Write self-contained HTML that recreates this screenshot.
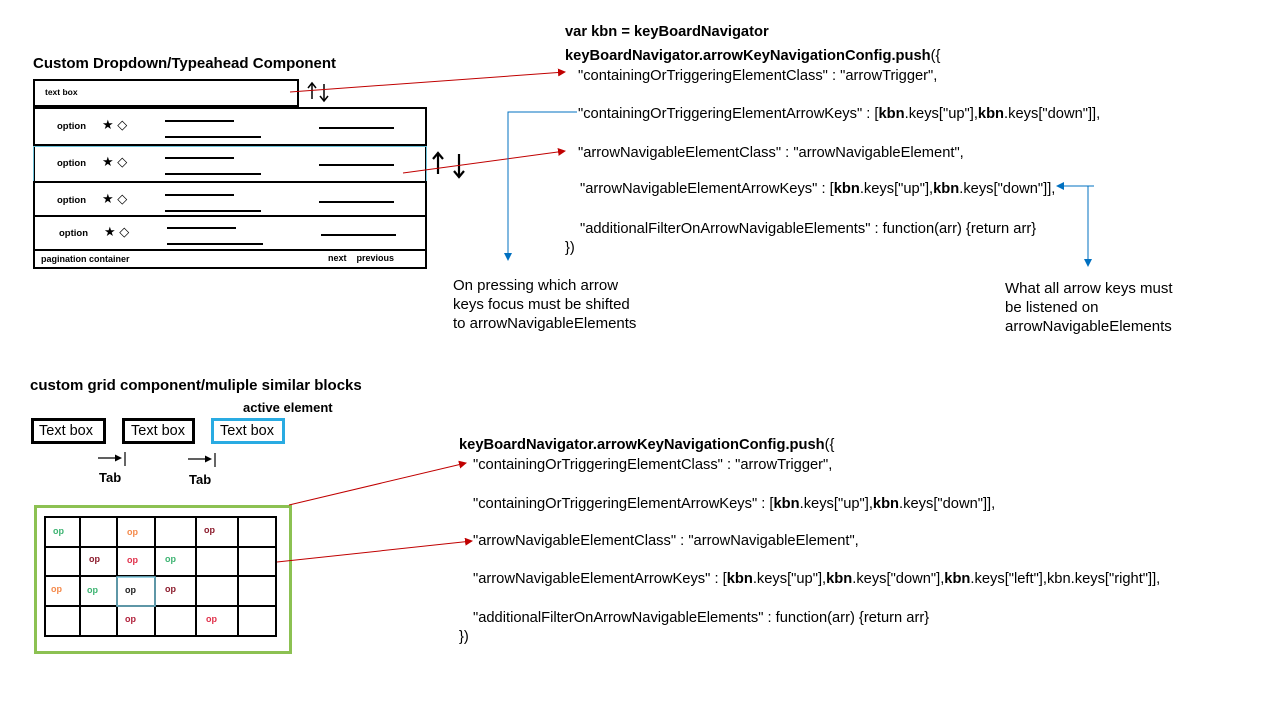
<html><head><style>
body{margin:0;width:1280px;height:720px;background:#fff;position:relative;font-family:"Liberation Sans",sans-serif;overflow:hidden}
.t{position:absolute;white-space:nowrap;color:#000}
.c{font-size:14.7px}
.b{font-weight:bold}
.box{position:absolute;border:2px solid #000;box-sizing:border-box}
.ln{position:absolute;height:2px;background:#000}
.op{position:absolute;font-size:9px;font-weight:bold}
</style></head><body>
<div class="t b" style="left:33px;top:55px;font-size:15px">Custom Dropdown/Typeahead Component</div>
<div class="box" style="left:33px;top:79px;width:266px;height:28px"></div>
<div class="t b" style="left:45px;top:87px;font-size:8.5px">text box</div>
<div class="box" style="left:33px;top:107px;width:394px;height:162px"></div>
<div class="ln" style="left:33px;top:144px;width:394px"></div>
<div class="box" style="left:33px;top:146px;width:394px;height:36px;border:1.5px solid #6ec1d8"></div>
<div class="ln" style="left:33px;top:181px;width:394px"></div>
<div class="ln" style="left:33px;top:215px;width:394px"></div>
<div class="ln" style="left:33px;top:249px;width:394px"></div>
<div class="t b" style="left:57px;top:121px;font-size:9.5px">option</div><div class="t" style="left:102px;top:117px;font-size:13px">★ ◇</div>
<div class="ln" style="left:165px;top:120px;width:69px"></div><div class="ln" style="left:165px;top:136px;width:96px"></div><div class="ln" style="left:319px;top:127px;width:75px"></div>
<div class="t b" style="left:57px;top:158px;font-size:9.5px">option</div><div class="t" style="left:102px;top:154px;font-size:13px">★ ◇</div>
<div class="ln" style="left:165px;top:157px;width:69px"></div><div class="ln" style="left:165px;top:173px;width:96px"></div><div class="ln" style="left:319px;top:164px;width:75px"></div>
<div class="t b" style="left:57px;top:195px;font-size:9.5px">option</div><div class="t" style="left:102px;top:191px;font-size:13px">★ ◇</div>
<div class="ln" style="left:165px;top:194px;width:69px"></div><div class="ln" style="left:165px;top:210px;width:96px"></div><div class="ln" style="left:319px;top:201px;width:75px"></div>
<div class="t b" style="left:59px;top:228px;font-size:9.5px">option</div><div class="t" style="left:104px;top:224px;font-size:13px">★ ◇</div>
<div class="ln" style="left:167px;top:227px;width:69px"></div><div class="ln" style="left:167px;top:243px;width:96px"></div><div class="ln" style="left:321px;top:234px;width:75px"></div>
<div class="t b" style="left:41px;top:254px;font-size:9px">pagination container</div>
<div class="t b" style="left:328px;top:253px;font-size:9px">next&nbsp;&nbsp;&nbsp;&nbsp;previous</div>

<div class="t c b" style="left:565px;top:24px">var kbn = keyBoardNavigator</div>
<div class="t c" style="left:565px;top:48px"><b>keyBoardNavigator.arrowKeyNavigationConfig.push</b>({</div>
<div class="t c" style="left:578px;top:68px">"containingOrTriggeringElementClass" : "arrowTrigger",</div>
<div class="t c" style="left:578px;top:106px">"containingOrTriggeringElementArrowKeys" : [<b>kbn</b>.keys["up"],<b>kbn</b>.keys["down"]],</div>
<div class="t c" style="left:578px;top:145px">"arrowNavigableElementClass" : "arrowNavigableElement",</div>
<div class="t c" style="left:580px;top:181px">"arrowNavigableElementArrowKeys" : [<b>kbn</b>.keys["up"],<b>kbn</b>.keys["down"]],</div>
<div class="t c" style="left:580px;top:221px">"additionalFilterOnArrowNavigableElements" : function(arr) {return arr}</div>
<div class="t c" style="left:565px;top:240px">})</div>
<div class="t" style="left:453px;top:276px;line-height:19px;font-size:15px">On pressing which arrow<br>keys focus must be shifted<br>to arrowNavigableElements</div>
<div class="t" style="left:1005px;top:279px;line-height:19px;font-size:15px">What all arrow keys must<br>be listened on<br>arrowNavigableElements</div>

<div class="t b" style="left:30px;top:377px;font-size:15px">custom grid component/muliple similar blocks</div>
<div class="t b" style="left:243px;top:400px;font-size:13px">active element</div>
<div class="box" style="left:31px;top:418px;width:75px;height:26px;border-width:3px"></div>
<div class="t" style="left:39px;top:423px;font-size:14.5px">Text box</div>
<div class="box" style="left:122px;top:418px;width:73px;height:26px;border-width:3px"></div>
<div class="t" style="left:131px;top:423px;font-size:14.5px">Text box</div>
<div class="box" style="left:211px;top:418px;width:74px;height:26px;border:3px solid #29abe2"></div>
<div class="t" style="left:220px;top:423px;font-size:14.5px">Text box</div>
<div class="t b" style="left:99px;top:470px;font-size:13px">Tab</div>
<div class="t b" style="left:189px;top:472px;font-size:13px">Tab</div>

<div class="box" style="left:34px;top:505px;width:258px;height:149px;border:3px solid #8cc152"></div>
<svg style="position:absolute;left:0;top:0" width="1280" height="720">
<defs><marker id="r" markerWidth="8" markerHeight="8" refX="7" refY="4" orient="auto"><path d="M0,0L8,4L0,8z" fill="#c00000"/></marker>
<marker id="bl" markerWidth="8" markerHeight="8" refX="7" refY="4" orient="auto"><path d="M0,0L8,4L0,8z" fill="#0070c0"/></marker></defs>
<g stroke="#000" stroke-width="2" fill="none">
<rect x="45" y="517" width="231" height="119"/>
<line x1="80" y1="517" x2="80" y2="636"/><line x1="117" y1="517" x2="117" y2="636"/><line x1="155" y1="517" x2="155" y2="636"/><line x1="196" y1="517" x2="196" y2="636"/><line x1="238" y1="517" x2="238" y2="636"/>
<line x1="45" y1="547" x2="276" y2="547"/><line x1="45" y1="576" x2="276" y2="576"/><line x1="45" y1="606" x2="276" y2="606"/>
<g stroke-width="1.5"><line x1="312" y1="84" x2="312" y2="99"/><polyline points="308,88 312,83 316,88"/>
<line x1="324" y1="84" x2="324" y2="100"/><polyline points="320,96 324,101 328,96"/></g>
<g stroke-width="2.2"><line x1="438" y1="154" x2="438" y2="174"/><polyline points="433,159 438,153 443,159"/>
<line x1="459" y1="154" x2="459" y2="176"/><polyline points="454,171 459,177 464,171"/></g>
<g stroke-width="1.2"><line x1="98" y1="458" x2="117" y2="458"/><line x1="125" y1="452" x2="125" y2="466"/>
<line x1="188" y1="459" x2="207" y2="459"/><line x1="215" y1="453" x2="215" y2="467"/></g>
</g>
<path d="M115,454.5L122,458L115,461.5z M205,455.5L212,459L205,462.5z" fill="#000"/>
<rect x="117" y="577" width="38" height="29" fill="none" stroke="#7ec8dd" stroke-width="1.5"/>
<g stroke="#c00000" stroke-width="1">
<line x1="290" y1="92" x2="565" y2="72" marker-end="url(#r)"/>
<line x1="403" y1="173" x2="565" y2="151" marker-end="url(#r)"/>
<line x1="289" y1="505" x2="466" y2="463" marker-end="url(#r)"/>
<line x1="277" y1="562" x2="472" y2="541" marker-end="url(#r)"/>
</g>
<g stroke="#0070c0" stroke-width="1" fill="none">
<polyline points="577,112 508,112 508,260" marker-end="url(#bl)"/>
<polyline points="1094,186 1088,186 1088,266" marker-end="url(#bl)"/>
<line x1="1088" y1="186" x2="1057" y2="186" marker-end="url(#bl)"/>
</g>
</svg>
<div class="op" style="left:53px;top:526px;color:#3cb371">op</div>
<div class="op" style="left:127px;top:527px;color:#f4894a">op</div>
<div class="op" style="left:204px;top:525px;color:#8b1a2b">op</div>
<div class="op" style="left:89px;top:554px;color:#8b1a2b">op</div>
<div class="op" style="left:127px;top:555px;color:#e0304a">op</div>
<div class="op" style="left:165px;top:554px;color:#3cb371">op</div>
<div class="op" style="left:51px;top:584px;color:#f4894a">op</div>
<div class="op" style="left:87px;top:585px;color:#3cb371">op</div>
<div class="op" style="left:125px;top:585px;color:#222">op</div>
<div class="op" style="left:165px;top:584px;color:#8b1a2b">op</div>
<div class="op" style="left:125px;top:614px;color:#b0203a">op</div>
<div class="op" style="left:206px;top:614px;color:#e0304a">op</div>

<div class="t c" style="left:459px;top:437px"><b>keyBoardNavigator.arrowKeyNavigationConfig.push</b>({</div>
<div class="t c" style="left:473px;top:457px">"containingOrTriggeringElementClass" : "arrowTrigger",</div>
<div class="t c" style="left:473px;top:496px">"containingOrTriggeringElementArrowKeys" : [<b>kbn</b>.keys["up"],<b>kbn</b>.keys["down"]],</div>
<div class="t c" style="left:473px;top:533px">"arrowNavigableElementClass" : "arrowNavigableElement",</div>
<div class="t c" style="left:473px;top:571px">"arrowNavigableElementArrowKeys" : [<b>kbn</b>.keys["up"],<b>kbn</b>.keys["down"],<b>kbn</b>.keys["left"],kbn.keys["right"]],</div>
<div class="t c" style="left:473px;top:610px">"additionalFilterOnArrowNavigableElements" : function(arr) {return arr}</div>
<div class="t c" style="left:459px;top:629px">})</div>
</body></html>
